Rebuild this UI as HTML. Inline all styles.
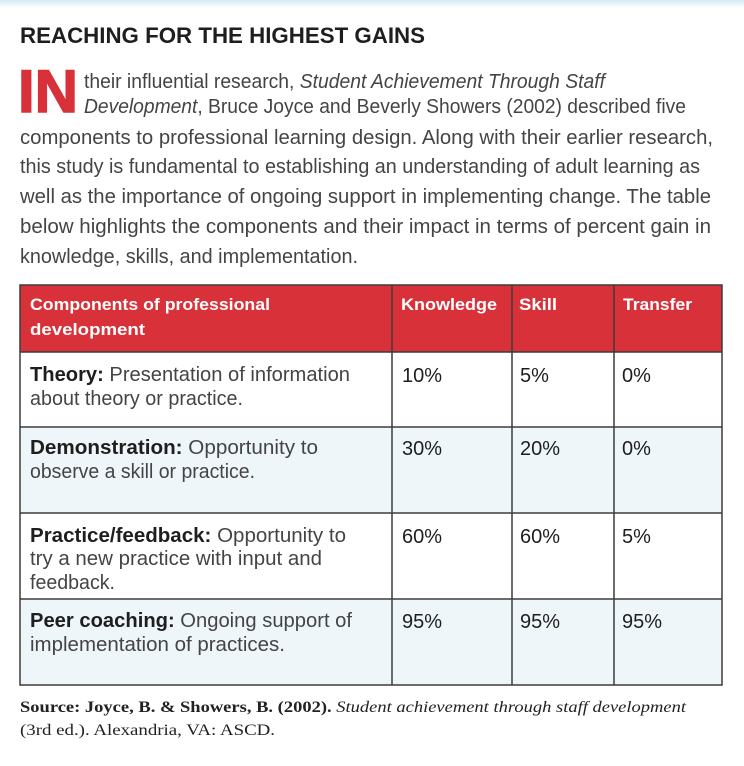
<!DOCTYPE html>
<html><head><meta charset="utf-8"><style>
html,body{margin:0;padding:0;background:#fff;}
svg{display:block;font-family:"Liberation Sans",sans-serif;}
</style></head><body>
<svg width="744" height="766" viewBox="0 0 744 766">
<defs><linearGradient id="tg" x1="0" x2="0" y1="0" y2="1"><stop offset="0" stop-color="#d6eaf4"/><stop offset="1" stop-color="#ffffff"/></linearGradient></defs>
<rect x="0" y="0" width="744" height="8" fill="url(#tg)"/>
<text x="20" y="43" font-size="22" font-weight="bold" fill="#1e1e1e" textLength="405" lengthAdjust="spacingAndGlyphs">REACHING FOR THE HIGHEST GAINS</text>
<g fill="#444" font-size="20">
<text x="18" y="112" font-size="60" font-weight="bold" fill="#d8313a" stroke="#d8313a" stroke-width="1.5" textLength="60" lengthAdjust="spacingAndGlyphs">IN</text>
<text x="84" y="88" textLength="521" lengthAdjust="spacingAndGlyphs">their influential research, <tspan font-style="italic">Student Achievement Through Staff</tspan></text>
<text x="84" y="113" textLength="602" lengthAdjust="spacingAndGlyphs"><tspan font-style="italic">Development</tspan>, Bruce Joyce and Beverly Showers (2002) described five</text>
<text x="20" y="144" textLength="693" lengthAdjust="spacingAndGlyphs">components to professional learning design. Along with their earlier research,</text>
<text x="20" y="173" textLength="680" lengthAdjust="spacingAndGlyphs">this study is fundamental to establishing an understanding of adult learning as</text>
<text x="20" y="203" textLength="691" lengthAdjust="spacingAndGlyphs">well as the importance of ongoing support in implementing change. The table</text>
<text x="20" y="233" textLength="691" lengthAdjust="spacingAndGlyphs">below highlights the components and their impact in terms of percent gain in</text>
<text x="20" y="263" textLength="338" lengthAdjust="spacingAndGlyphs">knowledge, skills, and implementation.</text>
</g>
<g>
<rect x="20" y="285" width="702" height="67" fill="#d8313a"/>
<rect x="20" y="352" width="702" height="75" fill="#fff"/>
<rect x="20" y="427" width="702" height="86" fill="#eef6fa"/>
<rect x="20" y="513" width="702" height="86" fill="#fff"/>
<rect x="20" y="599" width="702" height="86" fill="#eef6fa"/>
<g stroke="#3c3c3c" stroke-width="1.5" fill="none">
<rect x="20" y="285" width="702" height="400"/>
<line x1="392" y1="285" x2="392" y2="685"/><line x1="512" y1="285" x2="512" y2="685"/><line x1="614" y1="285" x2="614" y2="685"/>
<line x1="20" y1="352" x2="722" y2="352"/><line x1="20" y1="427" x2="722" y2="427"/><line x1="20" y1="513" x2="722" y2="513"/><line x1="20" y1="599" x2="722" y2="599"/>
</g>
<g fill="#fff" font-size="17" font-weight="bold">
<text x="30" y="310" textLength="240" lengthAdjust="spacingAndGlyphs">Components of professional</text>
<text x="30" y="335" textLength="115" lengthAdjust="spacingAndGlyphs">development</text>
<text x="401" y="310" textLength="96" lengthAdjust="spacingAndGlyphs">Knowledge</text>
<text x="519" y="310" textLength="38" lengthAdjust="spacingAndGlyphs">Skill</text>
<text x="623" y="310" textLength="69" lengthAdjust="spacingAndGlyphs">Transfer</text>
</g>
<g fill="#444" font-size="20">
<text x="30" y="381" textLength="320" lengthAdjust="spacingAndGlyphs"><tspan font-weight="bold" fill="#1e1e1e">Theory:</tspan> Presentation of information</text>
<text x="30" y="405" textLength="213" lengthAdjust="spacingAndGlyphs">about theory or practice.</text>
<text x="30" y="454" textLength="288" lengthAdjust="spacingAndGlyphs"><tspan font-weight="bold" fill="#1e1e1e">Demonstration:</tspan> Opportunity to</text>
<text x="30" y="478" textLength="225" lengthAdjust="spacingAndGlyphs">observe a skill or practice.</text>
<text x="30" y="542" textLength="316" lengthAdjust="spacingAndGlyphs"><tspan font-weight="bold" fill="#1e1e1e">Practice/feedback:</tspan> Opportunity to</text>
<text x="30" y="565" textLength="292" lengthAdjust="spacingAndGlyphs">try a new practice with input and</text>
<text x="30" y="589" textLength="85" lengthAdjust="spacingAndGlyphs">feedback.</text>
<text x="30" y="627" textLength="322" lengthAdjust="spacingAndGlyphs"><tspan font-weight="bold" fill="#1e1e1e">Peer coaching:</tspan> Ongoing support of</text>
<text x="30" y="651" textLength="255" lengthAdjust="spacingAndGlyphs">implementation of practices.</text>
</g>
<g fill="#1e1e1e" font-size="20">
<text x="402" y="382">10%</text><text x="520" y="382">5%</text><text x="622" y="382">0%</text>
<text x="402" y="455">30%</text><text x="520" y="455">20%</text><text x="622" y="455">0%</text>
<text x="402" y="543">60%</text><text x="520" y="543">60%</text><text x="622" y="543">5%</text>
<text x="402" y="628">95%</text><text x="520" y="628">95%</text><text x="622" y="628">95%</text>
</g>
</g>
<g font-family="Liberation Serif, serif" font-size="16" fill="#222">
<text x="20" y="712" textLength="666" lengthAdjust="spacingAndGlyphs"><tspan font-weight="bold">Source: Joyce, B. &amp; Showers, B. (2002).</tspan> <tspan font-style="italic">Student achievement through staff development</tspan></text>
<text x="20" y="735" textLength="255" lengthAdjust="spacingAndGlyphs">(3rd ed.). Alexandria, VA: ASCD.</text>
</g>
</svg>
</body></html>
